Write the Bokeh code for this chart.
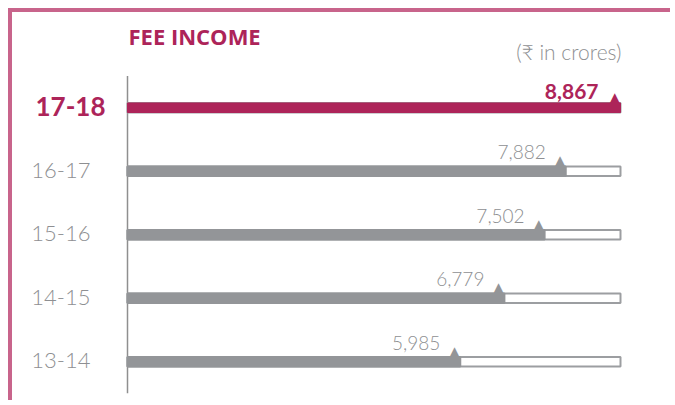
from bokeh.plotting import figure
from bokeh.models import ColumnDataSource, Range1d, FactorRange, Label
from bokeh.core.properties import value
from bokeh.embed import file_html
from bokeh.resources import INLINE

# ---- data ----
years = ["13-14", "14-15", "15-16", "16-17", "17-18"]
fee_income = [5985, 6779, 7502, 7882, 8867]
value_labels = ["5,985", "6,779", "7,502", "7,882", "8,867"]
title_text = "FEE INCOME"
unit_text = "(\u20b9 in crores)"
TITLE_ROW = " "          # empty top row that holds the titles

# ---- style ----
PINK = "#ad2459"
GRAY = "#939598"
OUTLINE = "#9c9ea1"
TXT_GRAY = "#8e8f92"
BORDER = "#c8648b"
LIGHT_FONT = "Lato Light"

W, H = 662, 392
FRAME_H = 381
AXIS_PX = 115      # screen position of the zero line inside the frame
END_PX = 608       # screen position of the largest value
max_val = max(fee_income)
u = max_val / (END_PX - AXIS_PX)

p = figure(width=W, height=H,
           y_range=FactorRange(*(years + [TITLE_ROW])),
           x_range=Range1d(-AXIS_PX * u, (W - AXIS_PX) * u),
           x_axis_location=None, y_axis_location=None,
           output_backend="svg", toolbar_location=None,
           min_border_left=0, min_border_right=0,
           min_border_top=0, min_border_bottom=H - FRAME_H)
p.outline_line_color = None
p.xgrid.visible = False
p.ygrid.visible = False
p.background_fill_color = "white"
p.border_fill_color = "white"
p.styles = {"margin-top": "8px", "margin-left": "8px",
            "border-top": f"4px solid {BORDER}", "border-left": f"4px solid {BORDER}"}

past_years = years[:-1]
past_vals = fee_income[:-1]
past_labels = value_labels[:-1]
cur_year = years[-1:]
cur_val = fee_income[-1:]
cur_label = value_labels[-1:]

bg = ColumnDataSource(dict(year=years, top=[max_val] * len(years)))
past = ColumnDataSource(dict(year=past_years, val=past_vals, lab=past_labels))
cur = ColumnDataSource(dict(year=cur_year, val=cur_val, lab=cur_label))

BAR_H = 0.15

# zero line spanning the category rows
p.segment(x0=0, x1=0, y0=0, y1=len(years), line_color="#8f8f8f", line_width=1.5)

# background track bars
p.hbar(y="year", left=0, right="top", height=BAR_H, source=bg,
       fill_color="white", line_color=OUTLINE, line_width=2)
# value bars
p.hbar(y="year", left=0, right="val", height=BAR_H, source=past,
       fill_color=GRAY, line_color=GRAY, line_width=2)
p.hbar(y="year", left=0, right="val", height=BAR_H, source=cur,
       fill_color=PINK, line_color=PINK, line_width=1)

# triangle pointers at bar ends
p.text(x="val", y="year", text=value("\u25b2"), source=past,
       text_font=value("DejaVu Sans"), text_font_size="15px",
       text_color=GRAY, text_align="right", text_baseline="middle",
       y_offset=-10)
p.text(x="val", y="year", text=value("\u25b2"), source=cur,
       text_font=value("DejaVu Sans"), text_font_size="15px",
       text_color=PINK, text_align="right", text_baseline="middle",
       y_offset=-10)

# value labels
p.text(x="val", y="year", text="lab", source=past,
       text_font=value(LIGHT_FONT), text_font_size="19px",
       text_color=TXT_GRAY, text_align="right", text_baseline="middle",
       x_offset=-20, y_offset=-19)
p.text(x="val", y="year", text="lab", source=cur,
       text_font=value("Lato"), text_font_style="bold", text_font_size="21px",
       text_color=PINK, text_align="right", text_baseline="middle",
       x_offset=-22, y_offset=-16)

# category labels
p.text(x=0, y="year", text="year", source=past,
       text_font=value(LIGHT_FONT), text_font_size="22px",
       text_color=TXT_GRAY, text_align="right", text_baseline="middle",
       x_offset=-37, y_offset=-1)
p.text(x=0, y="year", text="year", source=cur,
       text_font=value("Lato"), text_font_style="bold", text_font_size="26px",
       text_color=PINK, text_align="right", text_baseline="middle",
       x_offset=-22, y_offset=-1)

# titles (screen units, relative to the frame's bottom-left)
p.add_layout(Label(x=116, y=358, x_units="screen", y_units="screen",
                   text=title_text, text_font="Open Sans", text_font_style="bold",
                   text_font_size="22px", text_color=PINK, text_baseline="middle"))
p.add_layout(Label(x=609, y=342, x_units="screen", y_units="screen",
                   text=unit_text, text_font=LIGHT_FONT,
                   text_font_size="21px", text_color=TXT_GRAY,
                   text_align="right", text_baseline="middle"))

open("out.html", "w").write(file_html(p, INLINE))
